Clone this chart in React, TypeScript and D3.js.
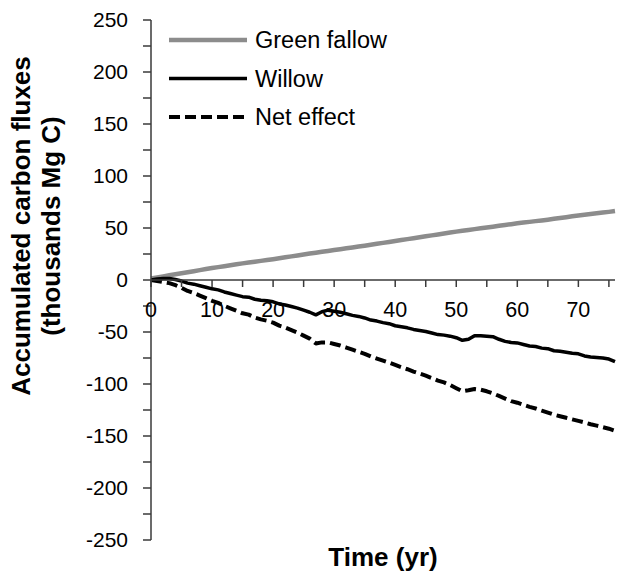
import React from "react";
import * as d3 from "d3";

const years: number[] = Array.from({ length: 77 }, (_, i) => i);

const greenFallow: number[] = [
  1.5, 2.5, 3.5, 4.5, 5.5, 6.5, 7.5, 8.5, 9.5, 10.5, 11.5, 12.4, 13.3, 14.2, 15.1, 16,
  16.8, 17.6, 18.4, 19.2, 20, 20.9, 21.8, 22.7, 23.6, 24.5, 25.4, 26.2, 27.1, 27.9, 28.8,
  29.6, 30.5, 31.3, 32.2, 33, 33.9, 34.8, 35.7, 36.6, 37.5, 38.4, 39.3, 40.2, 41.1, 42,
  42.9, 43.8, 44.7, 45.6, 46.5, 47.3, 48.1, 48.9, 49.7, 50.5, 51.3, 52.1, 52.9, 53.7,
  54.5, 55.2, 55.9, 56.6, 57.3, 58, 58.8, 59.6, 60.4, 61.2, 62, 62.7, 63.4, 64.1, 64.8,
  65.5, 66.3,
];

const willow: number[] = [
  0, 1, 1.5, 1.5, 0.5, -1, -3, -4, -5.5, -7, -8.5, -9.5, -11.5, -13, -14.5, -16, -16.5,
  -18.5, -19.5, -20, -21, -23, -24, -25.5, -27, -29, -31, -33.5, -30.5, -29, -30, -31,
  -32.5, -34, -35, -36.5, -38.5, -39.5, -41, -42, -44, -45, -46, -47.5, -48.5, -49.5,
  -51, -52.5, -53, -54, -55.5, -58, -57, -53.5, -53.5, -54, -54.5, -57, -59, -60,
  -60.5, -62, -63.5, -64, -65.5, -66, -68, -68.5, -69.5, -70.5, -71, -73, -74, -74.5,
  -75, -76, -78.5,
];

const netEffect: number[] = [
  0, -1, -2, -3, -5, -7.5, -10.5, -12.5, -15, -17.5, -20, -22, -24.8, -27.2, -29.6, -32,
  -33.3, -36.1, -37.9, -39.2, -41, -43.9, -45.8, -48.2, -50.6, -53.5, -56.4, -61, -60,
  -60, -61.5, -63, -65, -67, -69, -71, -73.5, -75.5, -77.5, -79.5, -81.7, -83.8, -85.8,
  -88, -90, -92, -94.3, -96.7, -98.5, -101, -104, -107, -106, -104.8, -105.5, -107,
  -109, -111.5, -114, -116.5, -118, -120, -122, -123.5, -125.6, -127.5, -129.5, -131,
  -132.5, -134, -135.5, -137, -138.7, -140, -141.5, -143, -145,
];

const seriesNames: string[] = ["Green fallow", "Willow", "Net effect"];
const yTickLabels: number[] = [250, 200, 150, 100, 50, 0, -50, -100, -150, -200, -250];
const xTickLabels: number[] = [0, 10, 20, 30, 40, 50, 60, 70];

const W = 617;
const H = 574;
const FONT = "'Liberation Sans', Arial, sans-serif";

export default function App() {
  const x = d3.scaleLinear().domain([0, 76]).range([151, 615]);
  const y = d3.scaleLinear().domain([-250, 250]).range([540, 20]);

  const line = d3
    .line<number>()
    .x((_, i) => x(years[i]))
    .y((d) => y(d))
    .curve(d3.curveLinear);

  const styles = [
    { color: "#8c8c8c", width: 4.5, dash: undefined as string | undefined },
    { color: "#000000", width: 3.5, dash: undefined as string | undefined },
    { color: "#000000", width: 4, dash: "11,5" },
  ];
  const data = [greenFallow, willow, netEffect];

  const yMinor = d3.range(-250, 251, 25);
  const xMinor = d3.range(0, 76, 5);

  const axisColor = "#3a3a3a";

  return (
    <div style={{ position: "absolute", left: 0, top: 0 }}>
      <svg width={W} height={H} style={{ display: "block", background: "#fff" }}>
        {data.map((d, i) => (
          <path
            key={seriesNames[i]}
            d={line(d) || ""}
            fill="none"
            stroke={styles[i].color}
            strokeWidth={styles[i].width}
            strokeDasharray={styles[i].dash}
            strokeLinejoin="round"
          />
        ))}

        {/* y axis */}
        <line x1={x(0)} x2={x(0)} y1={y(250)} y2={y(-250)} stroke={axisColor} strokeWidth={1.5} />
        {yMinor.map((v) => (
          <line key={"yt" + v} x1={x(0) - 8} x2={x(0)} y1={y(v)} y2={y(v)} stroke={axisColor} strokeWidth={1.5} />
        ))}
        {yTickLabels.map((v) => (
          <text
            key={"yl" + v}
            x={128}
            y={y(v)}
            dy="0.35em"
            textAnchor="end"
            fontFamily={FONT}
            fontSize={21}
            fill="#000"
          >
            {v}
          </text>
        ))}

        {/* x axis */}
        <line x1={x(0)} x2={x(76)} y1={y(0)} y2={y(0)} stroke={axisColor} strokeWidth={1.5} />
        {xMinor.map((v) => (
          <line key={"xt" + v} x1={x(v)} x2={x(v)} y1={y(0)} y2={y(0) + 7} stroke={axisColor} strokeWidth={1.5} />
        ))}
        {xTickLabels.map((v) => (
          <text
            key={"xl" + v}
            x={x(v)}
            y={y(0) + 37}
            textAnchor="middle"
            fontFamily={FONT}
            fontSize={21.5}
            fill="#000"
          >
            {v}
          </text>
        ))}

        {/* axis titles */}
        <text
          transform={`translate(30,226) rotate(-90)`}
          textAnchor="middle"
          fontFamily={FONT}
          fontSize={26}
          fontWeight="bold"
        >
          Accumulated carbon fluxes
        </text>
        <text
          transform={`translate(60,226) rotate(-90)`}
          textAnchor="middle"
          fontFamily={FONT}
          fontSize={26}
          fontWeight="bold"
        >
          (thousands Mg C)
        </text>
        <text x={383} y={566} textAnchor="middle" fontFamily={FONT} fontSize={26} fontWeight="bold">
          Time (yr)
        </text>

        {/* legend */}
        {seriesNames.map((name, i) => {
          const ly = 40 + i * 38.5;
          return (
            <g key={"lg" + name}>
              <line
                x1={169}
                x2={247}
                y1={ly}
                y2={ly}
                stroke={styles[i].color}
                strokeWidth={styles[i].width}
                strokeDasharray={styles[i].dash}
              />
              <text x={255} y={ly} dy="0.35em" fontFamily={FONT} fontSize={23.5} fill="#000">
                {name}
              </text>
            </g>
          );
        })}
      </svg>
    </div>
  );
}
